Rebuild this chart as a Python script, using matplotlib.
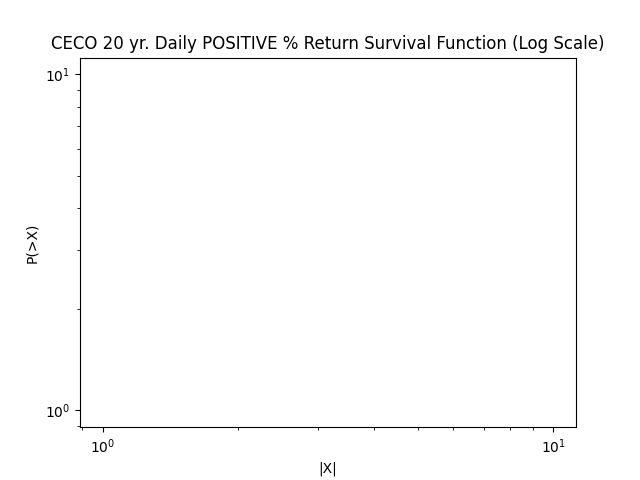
import numpy as np
import matplotlib.pyplot as plt

# survival function of positive daily returns -- no points made it through
abs_returns = np.array([])
surv_prob = np.array([])

plt.figure(figsize=(6.4, 4.8), dpi=100)
plt.loglog(abs_returns, surv_prob, marker='.', linestyle='none')
plt.title('CECO 20 yr. Daily POSITIVE % Return Survival Function (Log Scale)')
plt.xlabel('|X|')
plt.ylabel('P(>X)')
plt.savefig('out.png')
